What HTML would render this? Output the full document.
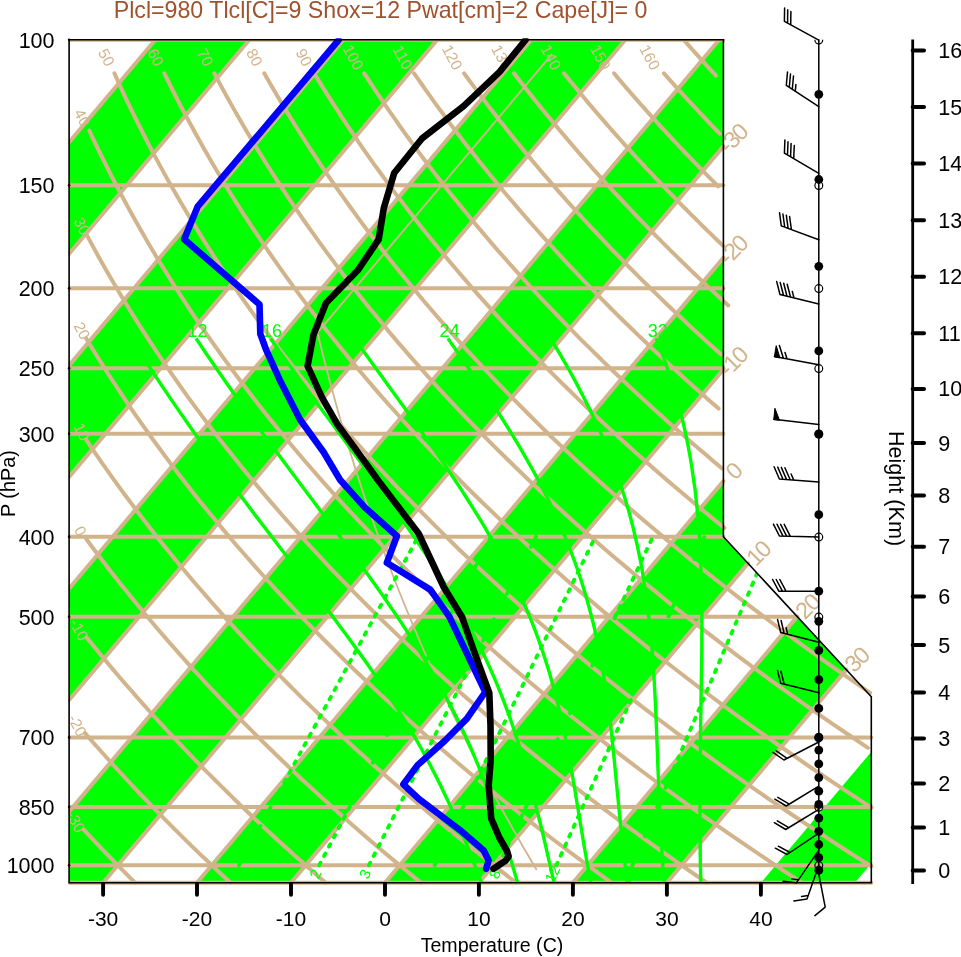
<!DOCTYPE html><html><head><meta charset="utf-8"><style>html,body{margin:0;padding:0;background:#fff;overflow:hidden}svg{display:block}</style></head><body><svg width="961" height="957" viewBox="0 0 961 957" font-family="Liberation Sans, sans-serif">
<defs><clipPath id="clip"><path d="M69.1 882.8L69.1 39.8L723.4 39.8L723.4 536.8L871.3 696.7L871.3 882.8Z"/></clipPath></defs>
<g clip-path="url(#clip)" fill="#00ff00">
<path d="M-554.7 882.8L155.4 39.8L249.4 39.8L-460.7 882.8Z"/>
<path d="M-366.8 882.8L343.3 39.8L437.3 39.8L-272.8 882.8Z"/>
<path d="M-178.8 882.8L531.3 39.8L625.3 39.8L-84.9 882.8Z"/>
<path d="M9.1 882.8L719.2 39.8L813.2 39.8L103.1 882.8Z"/>
<path d="M197.0 882.8L907.2 39.8L1001.1 39.8L291.0 882.8Z"/>
<path d="M385.0 882.8L1095.1 39.8L1189.1 39.8L478.9 882.8Z"/>
<path d="M572.9 882.8L1283.0 39.8L1377.0 39.8L666.9 882.8Z"/>
<path d="M760.9 882.8L1471.0 39.8L1564.9 39.8L854.8 882.8Z"/>
</g>
<defs><clipPath id="clipt"><rect x="68.5" y="39.2" width="961" height="957"/></clipPath></defs>
<g clip-path="url(#clipt)" stroke="#d2b48c" stroke-width="4.0" fill="none" stroke-linecap="round" stroke-linejoin="round">
<path d="M69.1 142.3L155.4 39.8"/>
<path d="M69.1 253.8L249.4 39.8"/>
<path d="M69.1 365.4L343.3 39.8"/>
<path d="M69.1 476.9L437.3 39.8"/>
<path d="M69.1 588.5L531.3 39.8"/>
<path d="M69.1 700.0L625.3 39.8"/>
<path d="M69.1 811.6L719.2 39.8"/>
<path d="M103.1 882.8L723.4 146.4"/>
<path d="M197.0 882.8L723.4 257.9"/>
<path d="M291.0 882.8L723.4 369.5"/>
<path d="M385.0 882.8L723.4 481.1"/>
<path d="M478.9 882.8L748.0 563.4"/>
<path d="M572.9 882.8L797.2 616.6"/>
<path d="M666.9 882.8L846.4 669.7"/>
<path d="M69.1 882.8L871.3 882.8"/>
<path d="M69.1 865.3L871.3 865.3"/>
<path d="M69.1 807.0L871.3 807.0"/>
<path d="M69.1 737.4L871.3 737.4"/>
<path d="M69.1 616.8L797.4 616.8"/>
<path d="M69.1 536.8L723.4 536.8"/>
<path d="M69.1 433.7L723.4 433.7"/>
<path d="M69.1 368.3L723.4 368.3"/>
<path d="M69.1 288.3L723.4 288.3"/>
<path d="M69.1 185.2L723.4 185.2"/>
<path d="M69.1 39.8L723.4 39.8"/>
<path d="M83.5 829.4L84.3 830.3L85.2 831.1L86.0 832.0L86.8 832.9L87.7 833.8L88.5 834.7L89.3 835.6L90.2 836.5L91.0 837.4L91.8 838.3L92.7 839.2L93.5 840.1L94.3 840.9L95.2 841.8L96.0 842.7L96.9 843.6L97.7 844.5L98.6 845.4L99.4 846.3L100.3 847.2L101.1 848.1L102.0 849.0L102.8 849.8L103.7 850.7L104.5 851.6L105.4 852.5L106.2 853.4L107.1 854.3L108.0 855.2L108.8 856.1L109.7 857.0L110.6 857.9L111.4 858.8L112.3 859.6L113.1 860.5L114.0 861.4L114.9 862.3L115.8 863.2L116.6 864.1L117.5 865.0L118.4 865.9L119.2 866.8L120.1 867.7L121.0 868.6L121.9 869.4L122.8 870.3L123.6 871.2L124.5 872.1L125.4 873.0L126.3 873.9L127.2 874.8L128.1 875.7L128.9 876.6L129.8 877.5L130.7 878.3L131.6 879.2L132.5 880.1L133.4 881.0L134.3 881.9L135.2 882.8"/>
<path d="M85.0 733.1L87.2 735.6L89.3 738.1L91.5 740.6L93.7 743.1L95.9 745.6L98.1 748.0L100.3 750.5L102.5 753.0L104.8 755.5L107.0 758.0L109.3 760.5L111.5 763.0L113.8 765.5L116.1 768.0L118.4 770.5L120.7 773.0L123.0 775.5L125.3 778.0L127.6 780.5L129.9 783.0L132.2 785.5L134.6 788.0L136.9 790.5L139.3 793.0L141.7 795.5L144.1 798.0L146.5 800.5L148.9 802.9L151.3 805.4L153.7 807.9L156.1 810.4L158.5 812.9L161.0 815.4L163.4 817.9L165.9 820.4L168.4 822.9L170.9 825.4L173.3 827.9L175.8 830.4L178.4 832.9L180.9 835.4L183.4 837.9L185.9 840.4L188.5 842.9L191.0 845.4L193.6 847.9L196.2 850.4L198.8 852.9L201.3 855.4L203.9 857.8L206.6 860.3L209.2 862.8L211.8 865.3L214.4 867.8L217.1 870.3L219.7 872.8L222.4 875.3L225.1 877.8L227.8 880.3L230.5 882.8"/>
<path d="M86.6 637.4L89.9 641.5L93.2 645.5L96.5 649.6L99.9 653.7L103.3 657.8L106.7 661.9L110.1 666.0L113.6 670.1L117.0 674.2L120.5 678.3L124.0 682.4L127.6 686.5L131.2 690.5L134.7 694.6L138.3 698.7L142.0 702.8L145.6 706.9L149.3 711.0L153.0 715.1L156.7 719.2L160.5 723.3L164.3 727.4L168.0 731.5L171.9 735.5L175.7 739.6L179.6 743.7L183.5 747.8L187.4 751.9L191.3 756.0L195.3 760.1L199.3 764.2L203.3 768.3L207.3 772.4L211.4 776.4L215.5 780.5L219.6 784.6L223.7 788.7L227.9 792.8L232.0 796.9L236.2 801.0L240.5 805.1L244.7 809.2L249.0 813.3L253.3 817.4L257.7 821.4L262.0 825.5L266.4 829.6L270.8 833.7L275.2 837.8L279.7 841.9L284.2 846.0L288.7 850.1L293.2 854.2L297.8 858.3L302.4 862.3L307.0 866.4L311.7 870.5L316.3 874.6L321.0 878.7L325.8 882.8"/>
<path d="M86.3 539.0L90.5 544.7L94.8 550.5L99.1 556.2L103.5 561.9L107.9 567.7L112.4 573.4L116.8 579.1L121.4 584.9L126.0 590.6L130.6 596.3L135.2 602.0L139.9 607.8L144.7 613.5L149.5 619.2L154.3 625.0L159.2 630.7L164.1 636.4L169.1 642.2L174.1 647.9L179.2 653.6L184.3 659.3L189.4 665.1L194.6 670.8L199.9 676.5L205.2 682.3L210.5 688.0L215.9 693.7L221.3 699.4L226.8 705.2L232.3 710.9L237.9 716.6L243.5 722.4L249.2 728.1L254.9 733.8L260.6 739.6L266.4 745.3L272.3 751.0L278.2 756.7L284.2 762.5L290.2 768.2L296.2 773.9L302.3 779.7L308.5 785.4L314.7 791.1L321.0 796.9L327.3 802.6L333.6 808.3L340.0 814.0L346.5 819.8L353.0 825.5L359.6 831.2L366.2 837.0L372.9 842.7L379.6 848.4L386.4 854.2L393.2 859.9L400.1 865.6L407.0 871.3L414.0 877.1L421.0 882.8"/>
<path d="M86.3 439.9L91.3 447.3L96.3 454.7L101.4 462.1L106.6 469.4L111.8 476.8L117.1 484.2L122.5 491.6L128.0 499.0L133.5 506.3L139.1 513.7L144.7 521.1L150.4 528.5L156.2 535.9L162.1 543.2L168.0 550.6L174.0 558.0L180.1 565.4L186.3 572.8L192.5 580.2L198.8 587.5L205.2 594.9L211.6 602.3L218.2 609.7L224.7 617.1L231.4 624.4L238.2 631.8L245.0 639.2L251.9 646.6L258.9 654.0L265.9 661.4L273.1 668.7L280.3 676.1L287.6 683.5L295.0 690.9L302.4 698.3L310.0 705.6L317.6 713.0L325.3 720.4L333.1 727.8L340.9 735.2L348.9 742.6L356.9 749.9L365.0 757.3L373.2 764.7L381.5 772.1L389.9 779.5L398.3 786.8L406.9 794.2L415.5 801.6L424.2 809.0L433.0 816.4L441.9 823.7L450.9 831.1L460.0 838.5L469.1 845.9L478.4 853.3L487.7 860.7L497.2 868.0L506.7 875.4L516.3 882.8"/>
<path d="M86.3 338.7L91.8 347.8L97.4 356.8L103.1 365.9L108.9 375.0L114.8 384.0L120.8 393.1L126.8 402.2L133.0 411.3L139.3 420.3L145.7 429.4L152.2 438.5L158.8 447.5L165.5 456.6L172.3 465.7L179.2 474.7L186.2 483.8L193.3 492.9L200.5 501.9L207.8 511.0L215.3 520.1L222.8 529.1L230.5 538.2L238.2 547.3L246.1 556.3L254.1 565.4L262.2 574.5L270.4 583.5L278.8 592.6L287.2 601.7L295.8 610.8L304.5 619.8L313.3 628.9L322.2 638.0L331.3 647.0L340.4 656.1L349.7 665.2L359.1 674.2L368.7 683.3L378.3 692.4L388.1 701.4L398.0 710.5L408.1 719.6L418.2 728.6L428.5 737.7L438.9 746.8L449.5 755.8L460.2 764.9L471.0 774.0L482.0 783.0L493.1 792.1L504.3 801.2L515.7 810.3L527.2 819.3L538.8 828.4L550.6 837.5L562.5 846.5L574.6 855.6L586.8 864.7L599.1 873.7L611.6 882.8"/>
<path d="M86.3 234.1L92.1 244.9L98.0 255.7L104.1 266.5L110.3 277.3L116.6 288.1L123.1 299.0L129.7 309.8L136.4 320.6L143.3 331.4L150.3 342.2L157.5 353.0L164.8 363.8L172.2 374.6L179.8 385.5L187.5 396.3L195.4 407.1L203.4 417.9L211.5 428.7L219.8 439.5L228.3 450.3L236.9 461.1L245.7 471.9L254.6 482.8L263.7 493.6L272.9 504.4L282.3 515.2L291.9 526.0L301.6 536.8L311.5 547.6L321.5 558.4L331.7 569.3L342.1 580.1L352.7 590.9L363.4 601.7L374.3 612.5L385.3 623.3L396.6 634.1L408.0 644.9L419.6 655.7L431.4 666.6L443.3 677.4L455.4 688.2L467.8 699.0L480.3 709.8L492.9 720.6L505.8 731.4L518.9 742.2L532.2 753.1L545.6 763.9L559.3 774.7L573.1 785.5L587.2 796.3L601.4 807.1L615.9 817.9L630.5 828.7L645.4 839.6L660.4 850.4L675.7 861.2L691.2 872.0L706.9 882.8"/>
<path d="M89.3 130.5L95.2 143.1L101.3 155.6L107.5 168.1L113.9 180.7L120.5 193.2L127.2 205.7L134.1 218.3L141.2 230.8L148.5 243.4L155.9 255.9L163.6 268.4L171.4 281.0L179.4 293.5L187.6 306.1L195.9 318.6L204.5 331.1L213.3 343.7L222.2 356.2L231.4 368.7L240.7 381.3L250.2 393.8L260.0 406.4L269.9 418.9L280.1 431.4L290.5 444.0L301.0 456.5L311.8 469.0L322.8 481.6L334.0 494.1L345.5 506.7L357.1 519.2L369.0 531.7L381.1 544.3L393.5 556.8L406.0 569.4L418.8 581.9L431.9 594.4L445.1 607.0L458.7 619.5L472.4 632.0L486.4 644.6L500.6 657.1L515.1 669.7L529.9 682.2L544.9 694.7L560.1 707.3L575.7 719.8L591.4 732.3L607.5 744.9L623.8 757.4L640.4 770.0L657.2 782.5L674.4 795.0L691.8 807.6L709.4 820.1L727.4 832.6L745.7 845.2L764.2 857.7L783.1 870.3L802.2 882.8"/>
<path d="M114.4 73.3L120.4 86.6L126.5 99.8L132.9 113.0L139.4 126.2L146.1 139.4L153.0 152.6L160.1 165.9L167.4 179.1L174.9 192.3L182.6 205.5L190.5 218.7L198.6 231.9L206.8 245.2L215.3 258.4L224.0 271.6L232.9 284.8L242.1 298.0L251.4 311.2L261.0 324.5L270.7 337.7L280.7 350.9L291.0 364.1L301.4 377.3L312.1 390.6L323.0 403.8L334.1 417.0L345.5 430.2L357.1 443.4L369.0 456.6L381.1 469.9L393.4 483.1L406.0 496.3L418.9 509.5L432.0 522.7L445.3 535.9L458.9 549.2L472.8 562.4L487.0 575.6L501.4 588.8L516.1 602.0L531.0 615.3L546.3 628.5L561.8 641.7L577.6 654.9L593.6 668.1L610.0 681.3L626.7 694.6L643.6 707.8L660.9 721.0L678.4 734.2L696.3 747.4L714.5 760.6L732.9 773.9L751.7 787.1L770.8 800.3L790.3 813.5L810.0 826.7L830.1 839.9L850.5 853.2L871.3 866.4"/>
<path d="M164.4 73.3L170.4 85.6L176.6 97.8L182.9 110.1L189.4 122.3L196.1 134.5L202.9 146.8L209.9 159.0L217.1 171.2L224.4 183.5L232.0 195.7L239.7 208.0L247.5 220.2L255.6 232.4L263.8 244.7L272.2 256.9L280.8 269.2L289.6 281.4L298.6 293.6L307.7 305.9L317.1 318.1L326.6 330.4L336.4 342.6L346.3 354.8L356.4 367.1L366.8 379.3L377.3 391.6L388.0 403.8L399.0 416.0L410.1 428.3L421.5 440.5L433.1 452.7L444.9 465.0L456.9 477.2L469.1 489.5L481.6 501.7L494.2 513.9L507.1 526.2L520.2 538.4L533.6 550.7L547.2 562.9L561.0 575.1L575.1 587.4L589.4 599.6L603.9 611.9L618.7 624.1L633.7 636.3L649.0 648.6L664.5 660.8L680.3 673.0L696.4 685.3L712.7 697.5L729.2 709.8L746.0 722.0L763.1 734.2L780.5 746.5L798.1 758.7L816.0 771.0L834.2 783.2L852.7 795.4L871.4 807.7"/>
<path d="M214.3 73.3L220.3 84.6L226.4 95.8L232.7 107.1L239.1 118.3L245.6 129.5L252.3 140.8L259.1 152.0L266.1 163.3L273.2 174.5L280.5 185.7L287.9 197.0L295.5 208.2L303.2 219.5L311.1 230.7L319.1 241.9L327.3 253.2L335.7 264.4L344.2 275.7L352.9 286.9L361.7 298.2L370.7 309.4L379.9 320.6L389.2 331.9L398.7 343.1L408.4 354.4L418.3 365.6L428.3 376.8L438.5 388.1L448.9 399.3L459.4 410.6L470.2 421.8L481.1 433.0L492.2 444.3L503.5 455.5L515.0 466.8L526.6 478.0L538.5 489.2L550.5 500.5L562.8 511.7L575.2 523.0L587.9 534.2L600.7 545.5L613.7 556.7L627.0 567.9L640.4 579.2L654.1 590.4L667.9 601.7L682.0 612.9L696.3 624.1L710.8 635.4L725.5 646.6L740.4 657.9L755.6 669.1L770.9 680.3L786.5 691.6L802.3 702.8L818.4 714.1L834.7 725.3L851.2 736.5L867.9 747.8"/>
<path d="M264.3 73.3L270.2 83.7L276.2 94.0L282.3 104.3L288.6 114.6L295.0 125.0L301.5 135.3L308.1 145.6L314.9 155.9L321.7 166.3L328.8 176.6L335.9 186.9L343.2 197.2L350.6 207.5L358.1 217.9L365.8 228.2L373.6 238.5L381.6 248.8L389.7 259.2L397.9 269.5L406.3 279.8L414.8 290.1L423.4 300.5L432.2 310.8L441.1 321.1L450.2 331.4L459.5 341.8L468.8 352.1L478.4 362.4L488.0 372.7L497.9 383.1L507.9 393.4L518.0 403.7L528.3 414.0L538.7 424.3L549.3 434.7L560.1 445.0L571.0 455.3L582.1 465.6L593.4 476.0L604.8 486.3L616.4 496.6L628.2 506.9L640.1 517.3L652.2 527.6L664.4 537.9L676.9 548.2L689.5 558.6L702.3 568.9L715.3 579.2L728.4 589.5L741.7 599.9L755.2 610.2L768.9 620.5L782.8 630.8L796.9 641.2L811.1 651.5L825.6 661.8L840.2 672.1L855.0 682.4L870.1 692.8"/>
<path d="M314.2 73.3L318.8 80.9L323.5 88.5L328.3 96.1L333.1 103.6L338.0 111.2L342.9 118.8L348.0 126.4L353.1 133.9L358.2 141.5L363.4 149.1L368.7 156.7L374.1 164.3L379.6 171.8L385.1 179.4L390.7 187.0L396.3 194.6L402.1 202.1L407.9 209.7L413.7 217.3L419.7 224.9L425.7 232.4L431.8 240.0L438.0 247.6L444.3 255.2L450.6 262.7L457.0 270.3L463.5 277.9L470.1 285.5L476.7 293.1L483.4 300.6L490.2 308.2L497.1 315.8L504.1 323.4L511.1 330.9L518.3 338.5L525.5 346.1L532.8 353.7L540.1 361.2L547.6 368.8L555.1 376.4L562.8 384.0L570.5 391.5L578.3 399.1L586.1 406.7L594.1 414.3L602.2 421.9L610.3 429.4L618.5 437.0L626.9 444.6L635.3 452.2L643.8 459.7L652.3 467.3L661.0 474.9L669.8 482.5L678.7 490.0L687.6 497.6L696.7 505.2L705.8 512.8L715.0 520.3L724.4 527.9"/>
<path d="M364.2 73.3L368.5 79.9L372.8 86.5L377.2 93.1L381.6 99.7L386.1 106.3L390.6 112.9L395.2 119.4L399.8 126.0L404.5 132.6L409.3 139.2L414.1 145.8L418.9 152.4L423.8 159.0L428.8 165.5L433.8 172.1L438.9 178.7L444.0 185.3L449.2 191.9L454.5 198.5L459.8 205.1L465.1 211.6L470.6 218.2L476.0 224.8L481.6 231.4L487.2 238.0L492.8 244.6L498.5 251.2L504.3 257.7L510.1 264.3L516.0 270.9L522.0 277.5L528.0 284.1L534.0 290.7L540.2 297.3L546.4 303.8L552.6 310.4L558.9 317.0L565.3 323.6L571.8 330.2L578.3 336.8L584.8 343.4L591.5 349.9L598.2 356.5L604.9 363.1L611.8 369.7L618.6 376.3L625.6 382.9L632.6 389.5L639.7 396.1L646.9 402.6L654.1 409.2L661.4 415.8L668.7 422.4L676.2 429.0L683.7 435.6L691.2 442.2L698.9 448.7L706.6 455.3L714.3 461.9L722.2 468.5"/>
<path d="M414.1 73.3L418.0 78.9L421.9 84.5L425.8 90.1L429.8 95.7L433.8 101.3L437.8 106.9L441.9 112.4L446.0 118.0L450.1 123.6L454.3 129.2L458.6 134.8L462.8 140.4L467.1 146.0L471.5 151.6L475.9 157.1L480.3 162.7L484.8 168.3L489.3 173.9L493.9 179.5L498.5 185.1L503.1 190.7L507.8 196.3L512.5 201.8L517.3 207.4L522.1 213.0L527.0 218.6L531.9 224.2L536.8 229.8L541.8 235.4L546.8 240.9L551.9 246.5L557.0 252.1L562.1 257.7L567.3 263.3L572.6 268.9L577.9 274.5L583.2 280.1L588.6 285.6L594.0 291.2L599.5 296.8L605.0 302.4L610.5 308.0L616.1 313.6L621.8 319.2L627.5 324.8L633.2 330.3L639.0 335.9L644.9 341.5L650.7 347.1L656.7 352.7L662.7 358.3L668.7 363.9L674.8 369.4L680.9 375.0L687.0 380.6L693.3 386.2L699.5 391.8L705.9 397.4L712.2 403.0L718.6 408.6"/>
<path d="M464.1 73.3L467.5 78.0L470.9 82.7L474.4 87.4L477.9 92.1L481.4 96.7L485.0 101.4L488.5 106.1L492.1 110.8L495.8 115.5L499.4 120.2L503.1 124.8L506.8 129.5L510.6 134.2L514.3 138.9L518.1 143.6L522.0 148.3L525.8 152.9L529.7 157.6L533.6 162.3L537.6 167.0L541.5 171.7L545.6 176.3L549.6 181.0L553.7 185.7L557.7 190.4L561.9 195.1L566.0 199.8L570.2 204.4L574.4 209.1L578.7 213.8L583.0 218.5L587.3 223.2L591.6 227.9L596.0 232.5L600.4 237.2L604.8 241.9L609.3 246.6L613.8 251.3L618.3 255.9L622.9 260.6L627.4 265.3L632.1 270.0L636.7 274.7L641.4 279.4L646.1 284.0L650.9 288.7L655.7 293.4L660.5 298.1L665.3 302.8L670.2 307.5L675.1 312.1L680.1 316.8L685.1 321.5L690.1 326.2L695.1 330.9L700.2 335.5L705.3 340.2L710.5 344.9L715.7 349.6L720.9 354.3"/>
<path d="M514.1 73.3L517.0 77.2L520.0 81.1L523.0 84.9L526.0 88.8L529.1 92.7L532.1 96.5L535.2 100.4L538.3 104.3L541.5 108.2L544.6 112.0L547.8 115.9L550.9 119.8L554.1 123.6L557.4 127.5L560.6 131.4L563.9 135.2L567.2 139.1L570.5 143.0L573.8 146.8L577.1 150.7L580.5 154.6L583.9 158.4L587.3 162.3L590.7 166.2L594.1 170.1L597.6 173.9L601.1 177.8L604.6 181.7L608.1 185.5L611.7 189.4L615.3 193.3L618.8 197.1L622.5 201.0L626.1 204.9L629.7 208.7L633.4 212.6L637.1 216.5L640.8 220.4L644.6 224.2L648.3 228.1L652.1 232.0L655.9 235.8L659.8 239.7L663.6 243.6L667.5 247.4L671.4 251.3L675.3 255.2L679.2 259.0L683.2 262.9L687.2 266.8L691.2 270.6L695.2 274.5L699.3 278.4L703.3 282.3L707.4 286.1L711.6 290.0L715.7 293.9L719.9 297.7L724.0 301.6L728.3 305.5"/>
<path d="M564.0 73.3L566.3 76.2L568.7 79.1L571.0 82.0L573.4 84.8L575.7 87.7L578.1 90.6L580.5 93.5L582.9 96.3L585.3 99.2L587.7 102.1L590.1 105.0L592.6 107.9L595.0 110.7L597.5 113.6L600.0 116.5L602.4 119.4L604.9 122.2L607.4 125.1L610.0 128.0L612.5 130.9L615.0 133.7L617.6 136.6L620.2 139.5L622.7 142.4L625.3 145.3L627.9 148.1L630.5 151.0L633.1 153.9L635.8 156.8L638.4 159.6L641.1 162.5L643.8 165.4L646.4 168.3L649.1 171.1L651.8 174.0L654.5 176.9L657.3 179.8L660.0 182.6L662.8 185.5L665.5 188.4L668.3 191.3L671.1 194.2L673.9 197.0L676.7 199.9L679.5 202.8L682.3 205.7L685.2 208.5L688.1 211.4L690.9 214.3L693.8 217.2L696.7 220.0L699.6 222.9L702.5 225.8L705.5 228.7L708.4 231.6L711.4 234.4L714.3 237.3L717.3 240.2L720.3 243.1L723.3 245.9"/>
<path d="M614.0 73.3L615.6 75.2L617.2 77.1L618.8 79.0L620.4 80.9L622.0 82.8L623.6 84.6L625.2 86.5L626.8 88.4L628.5 90.3L630.1 92.2L631.8 94.1L633.4 95.9L635.1 97.8L636.7 99.7L638.4 101.6L640.0 103.5L641.7 105.4L643.4 107.2L645.1 109.1L646.7 111.0L648.4 112.9L650.1 114.8L651.8 116.7L653.5 118.6L655.2 120.4L657.0 122.3L658.7 124.2L660.4 126.1L662.1 128.0L663.9 129.9L665.6 131.7L667.3 133.6L669.1 135.5L670.8 137.4L672.6 139.3L674.4 141.2L676.1 143.0L677.9 144.9L679.7 146.8L681.5 148.7L683.3 150.6L685.1 152.5L686.9 154.3L688.7 156.2L690.5 158.1L692.3 160.0L694.1 161.9L695.9 163.8L697.8 165.6L699.6 167.5L701.4 169.4L703.3 171.3L705.1 173.2L707.0 175.1L708.9 177.0L710.7 178.8L712.6 180.7L714.5 182.6L716.4 184.5L718.2 186.4"/>
<path d="M663.9 73.3L664.8 74.3L665.7 75.4L666.6 76.4L667.5 77.4L668.4 78.4L669.3 79.4L670.2 80.4L671.1 81.4L672.0 82.4L672.9 83.4L673.8 84.4L674.7 85.4L675.6 86.5L676.6 87.5L677.5 88.5L678.4 89.5L679.3 90.5L680.2 91.5L681.1 92.5L682.1 93.5L683.0 94.5L683.9 95.5L684.8 96.5L685.7 97.6L686.7 98.6L687.6 99.6L688.5 100.6L689.5 101.6L690.4 102.6L691.3 103.6L692.3 104.6L693.2 105.6L694.1 106.6L695.1 107.6L696.0 108.7L697.0 109.7L697.9 110.7L698.8 111.7L699.8 112.7L700.7 113.7L701.7 114.7L702.6 115.7L703.6 116.7L704.5 117.7L705.5 118.7L706.5 119.8L707.4 120.8L708.4 121.8L709.3 122.8L710.3 123.8L711.3 124.8L712.2 125.8L713.2 126.8L714.2 127.8L715.1 128.8L716.1 129.8L717.1 130.9L718.1 131.9L719.0 132.9L720.0 133.9"/>
<path d="M683.7 39.8L684.2 40.4L684.8 41.0L685.3 41.6L685.8 42.2L686.3 42.8L686.9 43.4L687.4 44.0L687.9 44.6L688.4 45.2L689.0 45.8L689.5 46.4L690.0 47.0L690.6 47.6L691.1 48.2L691.6 48.8L692.1 49.4L692.7 50.0L693.2 50.6L693.7 51.2L694.3 51.8L694.8 52.3L695.3 52.9L695.9 53.5L696.4 54.1L696.9 54.7L697.5 55.3L698.0 55.9L698.6 56.5L699.1 57.1L699.6 57.7L700.2 58.3L700.7 58.9L701.2 59.5L701.8 60.1L702.3 60.7L702.9 61.3L703.4 61.9L703.9 62.5L704.5 63.1L705.0 63.7L705.6 64.3L706.1 64.9L706.7 65.5L707.2 66.1L707.8 66.7L708.3 67.3L708.8 67.9L709.4 68.5L709.9 69.1L710.5 69.6L711.0 70.2L711.6 70.8L712.1 71.4L712.7 72.0L713.2 72.6L713.8 73.2L714.3 73.8L714.9 74.4L715.4 75.0L716.0 75.6"/>
</g>
<path d="M536.7 870.0L524.2 848.7L511.8 827.0L499.7 805.2L487.8 783.0L476.1 760.7L464.7 738.0L453.5 715.1L442.5 691.8L431.7 668.3L421.2 644.5L411.0 620.4L401.0 596.0L391.3 571.3L381.9 546.2L372.8 520.8L363.9 495.0L355.4 468.9L347.2 442.4L339.2 415.6L331.7 388.3L324.4 360.7L317.5 332.6L341.3 304.4L365.1 276.1L388.9 247.8L412.7 219.6L436.5 191.3L460.4 163.0L484.2 134.8L508.0 106.5L531.8 78.2L552.3 53.9" stroke="#d2b48c" stroke-width="1.8" fill="none"/>
<g clip-path="url(#clip)" stroke="#00ff00" stroke-width="3.4" fill="none">
<path d="M700.9 882.8L700.8 879.4L700.7 875.9L700.6 872.4L700.5 868.9L700.4 865.3L700.3 861.7L700.3 858.1L700.2 854.4L700.2 850.7L700.1 846.9L700.1 843.1L700.1 839.3L700.1 835.4L700.0 831.5L700.0 827.5L700.0 823.5L700.0 819.5L700.0 815.4L700.0 811.2L700.1 807.0L700.1 802.8L700.1 798.5L700.1 794.2L700.2 789.8L700.2 785.3L700.2 780.8L700.3 776.2L700.3 771.6L700.3 766.9L700.4 762.2L700.4 757.4L700.4 752.5L700.5 747.5L700.5 742.5L700.6 737.4L700.6 732.3L700.6 727.0L700.7 721.7L700.8 716.3L700.9 710.9L701.0 705.3L701.0 699.7L701.1 693.9L701.2 688.1L701.3 682.2L701.4 676.1L701.5 670.0L701.6 663.8L701.7 657.4L701.8 651.0L701.8 644.4L701.8 637.7L701.9 630.9L701.9 623.9L701.8 616.8L701.8 609.6L701.7 602.2L701.6 594.6L701.5 586.9L701.3 579.0L701.0 571.0L700.7 562.7L700.4 554.3L699.9 545.7L699.4 536.8L698.7 527.7L698.0 518.4L697.1 508.9L696.1 499.0L695.0 488.9L693.4 478.5L691.9 467.8L690.1 456.8L688.0 445.4L685.6 433.7L682.9 421.5L679.8 408.9L676.2 395.9L672.1 382.4L667.5 368.3L662.3 353.7L656.3 338.4"/>
<path d="M664.1 882.8L663.8 879.4L663.6 875.9L663.3 872.4L663.1 868.9L662.8 865.3L662.6 861.7L662.4 858.1L662.1 854.4L661.9 850.7L661.7 846.9L661.5 843.1L661.3 839.3L661.1 835.4L660.9 831.5L660.7 827.5L660.5 823.5L660.3 819.5L660.1 815.4L659.9 811.2L659.7 807.0L659.5 802.8L659.3 798.5L659.1 794.2L658.9 789.8L658.7 785.3L658.5 780.8L658.3 776.2L658.1 771.6L657.9 766.9L657.7 762.2L657.6 757.4L657.4 752.5L657.2 747.5L657.0 742.5L656.8 737.4L656.6 732.3L656.4 727.0L656.2 721.7L656.0 716.3L655.7 710.9L655.5 705.3L655.2 699.7L654.9 693.9L654.6 688.1L654.3 682.2L653.9 676.1L653.5 670.0L653.1 663.8L652.7 657.4L652.2 651.0L651.6 644.4L651.0 637.7L650.3 630.9L649.6 623.9L648.8 616.8L648.0 609.6L647.0 602.2L646.0 594.6L644.8 586.9L643.6 579.0L642.3 571.0L640.8 562.7L639.1 554.3L637.3 545.7L635.3 536.8L633.1 527.7L630.7 518.4L628.1 508.9L625.2 499.0L622.0 488.9L618.6 478.5L614.8 467.8L610.6 456.8L606.1 445.4L601.1 433.7L595.6 421.5L589.6 408.9L583.0 395.9L575.9 382.4L568.2 368.3L559.7 353.7L550.6 338.4"/>
<path d="M627.5 882.8L627.0 879.4L626.6 875.9L626.1 872.4L625.7 868.9L625.2 865.3L624.8 861.7L624.4 858.1L623.9 854.4L623.5 850.7L623.0 846.9L622.6 843.1L622.2 839.3L621.8 835.4L621.3 831.5L620.9 827.5L620.4 823.5L620.0 819.5L619.6 815.4L619.2 811.2L618.8 807.0L618.4 802.8L618.0 798.5L617.6 794.2L617.1 789.8L616.7 785.3L616.3 780.8L615.8 776.2L615.4 771.6L614.9 766.9L614.5 762.2L614.0 757.4L613.5 752.5L613.0 747.5L612.5 742.5L612.0 737.4L611.4 732.3L610.8 727.0L610.2 721.7L609.5 716.3L608.8 710.9L608.1 705.3L607.4 699.7L606.6 693.9L605.7 688.1L604.8 682.2L603.8 676.1L602.8 670.0L601.7 663.8L600.5 657.4L599.3 651.0L598.0 644.4L596.5 637.7L595.0 630.9L593.4 623.9L591.6 616.8L589.7 609.6L587.7 602.2L585.5 594.6L583.2 586.9L580.7 579.0L578.0 571.0L575.1 562.7L572.0 554.3L568.7 545.7L565.1 536.8L561.3 527.7L557.1 518.4L552.7 508.9L548.0 499.0L542.9 488.9L537.4 478.5L531.6 467.8L525.3 456.8L518.7 445.4L511.6 433.7L504.0 421.5L495.9 408.9L487.4 395.9L478.3 382.4L468.7 368.3L458.6 353.7L447.9 338.4"/>
<path d="M590.9 882.8L590.2 879.4L589.6 875.9L589.0 872.4L588.3 868.9L587.7 865.3L587.0 861.7L586.3 858.1L585.7 854.4L585.0 850.7L584.3 846.9L583.7 843.1L583.0 839.3L582.4 835.4L581.7 831.5L581.1 827.5L580.4 823.5L579.7 819.5L579.1 815.4L578.4 811.2L577.7 807.0L577.0 802.8L576.3 798.5L575.6 794.2L574.9 789.8L574.1 785.3L573.3 780.8L572.6 776.2L571.7 771.6L570.9 766.9L570.0 762.2L569.2 757.4L568.3 752.5L567.3 747.5L566.3 742.5L565.3 737.4L564.3 732.3L563.1 727.0L562.0 721.7L560.8 716.3L559.5 710.9L558.2 705.3L556.8 699.7L555.3 693.9L553.7 688.1L552.1 682.2L550.4 676.1L548.6 670.0L546.6 663.8L544.6 657.4L542.5 651.0L540.2 644.4L537.8 637.7L535.3 630.9L532.6 623.9L529.8 616.8L526.7 609.6L523.6 602.2L520.2 594.6L516.6 586.9L512.8 579.0L508.8 571.0L504.6 562.7L500.1 554.3L495.3 545.7L490.3 536.8L485.0 527.7L479.4 518.4L473.5 508.9L467.3 499.0L460.8 488.9L453.9 478.5L446.8 467.8L439.2 456.8L431.3 445.4L423.0 433.7L414.4 421.5L405.4 408.9L395.9 395.9L386.1 382.4L375.9 368.3L365.3 353.7L354.3 338.4"/>
<path d="M554.1 882.8L553.3 879.4L552.5 875.9L551.7 872.4L550.9 868.9L550.1 865.3L549.2 861.7L548.4 858.1L547.6 854.4L546.7 850.7L545.9 846.9L545.0 843.1L544.1 839.3L543.2 835.4L542.3 831.5L541.3 827.5L540.3 823.5L539.3 819.5L538.3 815.4L537.2 811.2L536.2 807.0L535.1 802.8L534.0 798.5L532.9 794.2L531.7 789.8L530.5 785.3L529.3 780.8L528.1 776.2L526.8 771.6L525.5 766.9L524.1 762.2L522.7 757.4L521.2 752.5L519.7 747.5L518.2 742.5L516.5 737.4L514.8 732.3L513.1 727.0L511.3 721.7L509.4 716.3L507.4 710.9L505.3 705.3L503.2 699.7L500.9 693.9L498.6 688.1L496.1 682.2L493.5 676.1L490.8 670.0L488.0 663.8L485.1 657.4L482.0 651.0L478.7 644.4L475.4 637.7L471.8 630.9L468.1 623.9L464.2 616.8L460.1 609.6L455.9 602.2L451.4 594.6L446.7 586.9L441.8 579.0L436.7 571.0L431.4 562.7L425.9 554.3L420.1 545.7L414.1 536.8L407.8 527.7L401.3 518.4L394.5 508.9L387.4 499.0L380.1 488.9L372.5 478.5L364.7 467.8L356.6 456.8L348.2 445.4L339.5 433.7L330.6 421.5L321.3 408.9L311.7 395.9L301.9 382.4L291.7 368.3L281.2 353.7L270.4 338.4"/>
<path d="M517.7 882.8L516.7 879.4L515.6 875.9L514.6 872.4L513.5 868.9L512.5 865.3L511.4 861.7L510.3 858.1L509.2 854.4L508.1 850.7L506.9 846.9L505.8 843.1L504.6 839.3L503.3 835.4L502.1 831.5L500.8 827.5L499.5 823.5L498.2 819.5L496.8 815.4L495.4 811.2L494.0 807.0L492.5 802.8L491.0 798.5L489.4 794.2L487.8 789.8L486.1 785.3L484.4 780.8L482.6 776.2L480.7 771.6L478.8 766.9L476.8 762.2L474.8 757.4L472.7 752.5L470.6 747.5L468.3 742.5L466.0 737.4L463.6 732.3L461.2 727.0L458.6 721.7L456.0 716.3L453.2 710.9L450.3 705.3L447.4 699.7L444.4 693.9L441.2 688.1L437.9 682.2L434.5 676.1L430.9 670.0L427.2 663.8L423.4 657.4L419.5 651.0L415.4 644.4L411.1 637.7L406.7 630.9L402.1 623.9L397.4 616.8L392.4 609.6L387.4 602.2L382.1 594.6L376.7 586.9L371.0 579.0L365.2 571.0L359.2 562.7L353.0 554.3L346.7 545.7L340.1 536.8L333.3 527.7L326.3 518.4L319.1 508.9L311.7 499.0L304.2 488.9L296.3 478.5L288.3 467.8L280.1 456.8L271.6 445.4L263.0 433.7L254.1 421.5L245.0 408.9L235.6 395.9L226.1 382.4L216.3 368.3L206.3 353.7L196.0 338.4"/>
<path d="M481.5 882.8L480.2 879.4L478.9 875.9L477.6 872.4L476.3 868.9L474.9 865.3L473.5 861.7L472.1 858.1L470.6 854.4L469.2 850.7L467.6 846.9L466.1 843.1L464.6 839.3L463.0 835.4L461.4 831.5L459.7 827.5L458.0 823.5L456.2 819.5L454.4 815.4L452.6 811.2L450.7 807.0L448.8 802.8L446.8 798.5L444.7 794.2L442.6 789.8L440.5 785.3L438.2 780.8L436.0 776.2L433.6 771.6L431.2 766.9L428.7 762.2L426.1 757.4L423.4 752.5L420.7 747.5L417.8 742.5L414.9 737.4L411.9 732.3L408.8 727.0L405.5 721.7L402.3 716.3L398.8 710.9L395.3 705.3L391.6 699.7L387.8 693.9L383.9 688.1L379.9 682.2L375.8 676.1L371.5 670.0L367.2 663.8L362.7 657.4L358.0 651.0L353.3 644.4L348.4 637.7L343.4 630.9L338.2 623.9L332.9 616.8L327.5 609.6L321.9 602.2L316.1 594.6L310.2 586.9L304.2 579.0L298.0 571.0L291.7 562.7L285.2 554.3L278.6 545.7L271.8 536.8L264.9 527.7L257.7 518.4L250.5 508.9L243.1 499.0L235.5 488.9L227.7 478.5L219.8 467.8L211.7 456.8L203.4 445.4L195.0 433.7L186.4 421.5L177.6 408.9L168.7 395.9L159.6 382.4L150.3 368.3L140.8 353.7L131.2 338.4"/>
<path d="M632.5 865.3L772.7 536.8" stroke-dasharray="2.9 7.6" stroke-linecap="round" stroke-width="3.8"/>
<path d="M556.3 865.3L704.5 536.8" stroke-dasharray="2.9 7.6" stroke-linecap="round" stroke-width="3.8"/>
<path d="M498.6 865.3L652.8 536.8" stroke-dasharray="2.9 7.6" stroke-linecap="round" stroke-width="3.8"/>
<path d="M434.7 865.3L595.3 536.8" stroke-dasharray="2.9 7.6" stroke-linecap="round" stroke-width="3.8"/>
<path d="M368.9 865.3L535.9 536.8" stroke-dasharray="2.9 7.6" stroke-linecap="round" stroke-width="3.8"/>
<path d="M319.2 865.3L490.9 536.8" stroke-dasharray="2.9 7.6" stroke-linecap="round" stroke-width="3.8"/>
<path d="M239.0 865.3L418.1 536.8" stroke-dasharray="2.9 7.6" stroke-linecap="round" stroke-width="3.8"/>
</g>
<text transform="translate(76.0 821.6) rotate(62.0)" font-size="15.5" fill="#d2b48c" text-anchor="middle" dominant-baseline="central" >-30</text>
<text transform="translate(77.5 725.3) rotate(62.0)" font-size="15.5" fill="#d2b48c" text-anchor="middle" dominant-baseline="central" >-20</text>
<text transform="translate(79.1 629.6) rotate(62.0)" font-size="15.5" fill="#d2b48c" text-anchor="middle" dominant-baseline="central" >-10</text>
<text transform="translate(80.7 531.0) rotate(62.0)" font-size="15.5" fill="#d2b48c" text-anchor="middle" dominant-baseline="central" >0</text>
<text transform="translate(82.1 431.9) rotate(62.0)" font-size="15.5" fill="#d2b48c" text-anchor="middle" dominant-baseline="central" >10</text>
<text transform="translate(82.1 330.7) rotate(62.0)" font-size="15.5" fill="#d2b48c" text-anchor="middle" dominant-baseline="central" >20</text>
<text transform="translate(82.1 226.1) rotate(62.0)" font-size="15.5" fill="#d2b48c" text-anchor="middle" dominant-baseline="central" >30</text>
<text transform="translate(82.4 117.6) rotate(62.0)" font-size="15.5" fill="#d2b48c" text-anchor="middle" dominant-baseline="central" >40</text>
<text transform="translate(106.5 57.3) rotate(62.0)" font-size="15.5" fill="#d2b48c" text-anchor="middle" dominant-baseline="central" >50</text>
<text transform="translate(155.9 57.3) rotate(62.0)" font-size="15.5" fill="#d2b48c" text-anchor="middle" dominant-baseline="central" >60</text>
<text transform="translate(205.3 57.3) rotate(62.0)" font-size="15.5" fill="#d2b48c" text-anchor="middle" dominant-baseline="central" >70</text>
<text transform="translate(254.7 57.3) rotate(62.0)" font-size="15.5" fill="#d2b48c" text-anchor="middle" dominant-baseline="central" >80</text>
<text transform="translate(304.1 57.3) rotate(62.0)" font-size="15.5" fill="#d2b48c" text-anchor="middle" dominant-baseline="central" >90</text>
<text transform="translate(353.5 57.3) rotate(62.0)" font-size="15.5" fill="#d2b48c" text-anchor="middle" dominant-baseline="central" >100</text>
<text transform="translate(402.9 57.3) rotate(62.0)" font-size="15.5" fill="#d2b48c" text-anchor="middle" dominant-baseline="central" >110</text>
<text transform="translate(452.4 57.3) rotate(62.0)" font-size="15.5" fill="#d2b48c" text-anchor="middle" dominant-baseline="central" >120</text>
<text transform="translate(501.8 57.3) rotate(62.0)" font-size="15.5" fill="#d2b48c" text-anchor="middle" dominant-baseline="central" >130</text>
<text transform="translate(551.2 57.3) rotate(62.0)" font-size="15.5" fill="#d2b48c" text-anchor="middle" dominant-baseline="central" >140</text>
<text transform="translate(600.6 57.3) rotate(62.0)" font-size="15.5" fill="#d2b48c" text-anchor="middle" dominant-baseline="central" >150</text>
<text transform="translate(650.0 57.3) rotate(62.0)" font-size="15.5" fill="#d2b48c" text-anchor="middle" dominant-baseline="central" >160</text>
<text transform="translate(733.2 138.5) rotate(-45.0)" font-size="23.5" fill="#d2b48c" text-anchor="middle" dominant-baseline="central" letter-spacing="-1.5">-30</text>
<text transform="translate(733.2 250.0) rotate(-45.0)" font-size="23.5" fill="#d2b48c" text-anchor="middle" dominant-baseline="central" letter-spacing="-1.5">-20</text>
<text transform="translate(733.2 361.6) rotate(-45.0)" font-size="23.5" fill="#d2b48c" text-anchor="middle" dominant-baseline="central" letter-spacing="-1.5">-10</text>
<text transform="translate(733.8 471.2) rotate(-45.0)" font-size="23.5" fill="#d2b48c" text-anchor="middle" dominant-baseline="central" letter-spacing="-1.5">0</text>
<text transform="translate(758.4 553.5) rotate(-45.0)" font-size="23.5" fill="#d2b48c" text-anchor="middle" dominant-baseline="central" letter-spacing="-1.5">10</text>
<text transform="translate(807.6 606.7) rotate(-45.0)" font-size="23.5" fill="#d2b48c" text-anchor="middle" dominant-baseline="central" letter-spacing="-1.5">20</text>
<text transform="translate(856.8 659.8) rotate(-45.0)" font-size="23.5" fill="#d2b48c" text-anchor="middle" dominant-baseline="central" letter-spacing="-1.5">30</text>
<text transform="translate(657.8 331.0) rotate(0.0)" font-size="18.0" fill="#00ff00" text-anchor="middle" dominant-baseline="central" >32</text>
<text transform="translate(552.1 331.0) rotate(0.0)" font-size="18.0" fill="#00ff00" text-anchor="middle" dominant-baseline="central" >28</text>
<text transform="translate(449.4 331.0) rotate(0.0)" font-size="18.0" fill="#00ff00" text-anchor="middle" dominant-baseline="central" >24</text>
<text transform="translate(355.8 331.0) rotate(0.0)" font-size="18.0" fill="#00ff00" text-anchor="middle" dominant-baseline="central" >20</text>
<text transform="translate(271.9 331.0) rotate(0.0)" font-size="18.0" fill="#00ff00" text-anchor="middle" dominant-baseline="central" >16</text>
<text transform="translate(197.5 331.0) rotate(0.0)" font-size="18.0" fill="#00ff00" text-anchor="middle" dominant-baseline="central" >12</text>
<text transform="translate(132.7 331.0) rotate(0.0)" font-size="18.0" fill="#00ff00" text-anchor="middle" dominant-baseline="central" >8</text>
<text transform="translate(628.5 873.8) rotate(-65.0)" font-size="15.0" fill="#00ff00" text-anchor="middle" dominant-baseline="central" >20</text>
<text transform="translate(552.3 873.8) rotate(-65.0)" font-size="15.0" fill="#00ff00" text-anchor="middle" dominant-baseline="central" >12</text>
<text transform="translate(494.6 873.8) rotate(-65.0)" font-size="15.0" fill="#00ff00" text-anchor="middle" dominant-baseline="central" >8</text>
<text transform="translate(430.7 873.8) rotate(-65.0)" font-size="15.0" fill="#00ff00" text-anchor="middle" dominant-baseline="central" >5</text>
<text transform="translate(364.9 873.8) rotate(-65.0)" font-size="15.0" fill="#00ff00" text-anchor="middle" dominant-baseline="central" >3</text>
<text transform="translate(315.2 873.8) rotate(-65.0)" font-size="15.0" fill="#00ff00" text-anchor="middle" dominant-baseline="central" >2</text>
<text transform="translate(235.0 873.8) rotate(-65.0)" font-size="15.0" fill="#00ff00" text-anchor="middle" dominant-baseline="central" >1</text>
<g clip-path="url(#clipd)" fill="none" stroke-width="6.6" stroke-linejoin="round" stroke-linecap="round">
<path d="M338.6 40.0L197.6 206.7L184.2 239.3L259.5 304.5L260.3 333.8L266.2 350.0L273.2 365.3L280.0 380.5L300.0 419.5L323.5 452.0L340.2 480.0L365.0 507.6L396.9 536.0L386.8 562.8L430.3 589.6L449.3 616.7L485.3 692.0L466.9 718.7L445.1 740.5L417.6 765.1L403.4 784.3L418.5 798.6L460.3 830.3L483.7 850.4L488.7 860.4L486.2 868.8" stroke="#0000ff"/>
<path d="M525.5 40.0L499.6 71.8L463.6 106.1L421.8 138.7L394.2 173.0L383.7 208.5L378.7 239.4L357.8 270.3L326.0 303.0L313.4 335.0L307.6 366.0L321.8 397.0L336.9 423.7L355.3 448.8L377.8 480.0L418.6 533.5L443.7 587.0L461.9 616.7L473.6 650.0L489.3 692.8L490.5 725.4L490.7 760.1L488.7 785.2L491.2 818.6L499.3 837.5L507.0 851.0L508.6 856.3L505.8 860.4L493.5 868.8" stroke="#000"/>
</g>
<defs><clipPath id="clipd"><rect x="0" y="38.2" width="961" height="957"/></clipPath></defs>
<path d="M69.1 882.8L69.1 39.8L723.4 39.8L723.4 536.8L871.3 696.7L871.3 882.8Z" fill="none" stroke="#000" stroke-width="1.6"/>
<g font-family="Liberation Sans, sans-serif" fill="#000">
<text x="54.5" y="40.7" font-size="21.5" text-anchor="end" dominant-baseline="central">100</text>
<circle cx="69.1" cy="39.8" r="1.3"/>
<text x="54.5" y="186.1" font-size="21.5" text-anchor="end" dominant-baseline="central">150</text>
<circle cx="69.1" cy="185.2" r="1.3"/>
<text x="54.5" y="289.2" font-size="21.5" text-anchor="end" dominant-baseline="central">200</text>
<circle cx="69.1" cy="288.3" r="1.3"/>
<text x="54.5" y="369.2" font-size="21.5" text-anchor="end" dominant-baseline="central">250</text>
<circle cx="69.1" cy="368.3" r="1.3"/>
<text x="54.5" y="434.6" font-size="21.5" text-anchor="end" dominant-baseline="central">300</text>
<circle cx="69.1" cy="433.7" r="1.3"/>
<text x="54.5" y="537.7" font-size="21.5" text-anchor="end" dominant-baseline="central">400</text>
<circle cx="69.1" cy="536.8" r="1.3"/>
<text x="54.5" y="617.7" font-size="21.5" text-anchor="end" dominant-baseline="central">500</text>
<circle cx="69.1" cy="616.8" r="1.3"/>
<text x="54.5" y="738.3" font-size="21.5" text-anchor="end" dominant-baseline="central">700</text>
<circle cx="69.1" cy="737.4" r="1.3"/>
<text x="54.5" y="807.9" font-size="21.5" text-anchor="end" dominant-baseline="central">850</text>
<circle cx="69.1" cy="807.0" r="1.3"/>
<text x="54.5" y="866.2" font-size="21.5" text-anchor="end" dominant-baseline="central">1000</text>
<circle cx="69.1" cy="865.3" r="1.3"/>
<path d="M103.1 883.8V894.8" stroke="#000" stroke-width="3.9" stroke-linecap="round"/>
<text x="103.1" y="918.3" font-size="21" text-anchor="middle" dominant-baseline="central">-30</text>
<path d="M197.0 883.8V894.8" stroke="#000" stroke-width="3.9" stroke-linecap="round"/>
<text x="197.0" y="918.3" font-size="21" text-anchor="middle" dominant-baseline="central">-20</text>
<path d="M291.0 883.8V894.8" stroke="#000" stroke-width="3.9" stroke-linecap="round"/>
<text x="291.0" y="918.3" font-size="21" text-anchor="middle" dominant-baseline="central">-10</text>
<path d="M385.0 883.8V894.8" stroke="#000" stroke-width="3.9" stroke-linecap="round"/>
<text x="385.0" y="918.3" font-size="21" text-anchor="middle" dominant-baseline="central">0</text>
<path d="M478.9 883.8V894.8" stroke="#000" stroke-width="3.9" stroke-linecap="round"/>
<text x="478.9" y="918.3" font-size="21" text-anchor="middle" dominant-baseline="central">10</text>
<path d="M572.9 883.8V894.8" stroke="#000" stroke-width="3.9" stroke-linecap="round"/>
<text x="572.9" y="918.3" font-size="21" text-anchor="middle" dominant-baseline="central">20</text>
<path d="M666.9 883.8V894.8" stroke="#000" stroke-width="3.9" stroke-linecap="round"/>
<text x="666.9" y="918.3" font-size="21" text-anchor="middle" dominant-baseline="central">30</text>
<path d="M760.9 883.8V894.8" stroke="#000" stroke-width="3.9" stroke-linecap="round"/>
<text x="760.9" y="918.3" font-size="21" text-anchor="middle" dominant-baseline="central">40</text>
<text x="492" y="952" font-size="19.6" text-anchor="middle">Temperature (C)</text>
<text transform="translate(15 483.6) rotate(-90)" font-size="19.8" text-anchor="middle">P (hPa)</text>
</g>
<text x="380.6" y="17.9" font-size="23.2" text-anchor="middle" fill="#a0522d">Plcl=980 Tlcl[C]=9 Shox=12 Pwat[cm]=2 Cape[J]= 0</text>
<path d="M912.7 39.5V884" stroke="#000" stroke-width="2.8"/>
<g font-family="Liberation Sans, sans-serif" fill="#000" font-size="21.6">
<path d="M912.7 870.6H924" stroke="#000" stroke-width="4" stroke-linecap="round"/>
<text x="938.3" y="870.6" dominant-baseline="central">0</text>
<path d="M912.7 827.6H924" stroke="#000" stroke-width="4" stroke-linecap="round"/>
<text x="938.3" y="827.6" dominant-baseline="central">1</text>
<path d="M912.7 783.6H924" stroke="#000" stroke-width="4" stroke-linecap="round"/>
<text x="938.3" y="783.6" dominant-baseline="central">2</text>
<path d="M912.7 738.6H924" stroke="#000" stroke-width="4" stroke-linecap="round"/>
<text x="938.3" y="738.6" dominant-baseline="central">3</text>
<path d="M912.7 692.4H924" stroke="#000" stroke-width="4" stroke-linecap="round"/>
<text x="938.3" y="692.4" dominant-baseline="central">4</text>
<path d="M912.7 645.1H924" stroke="#000" stroke-width="4" stroke-linecap="round"/>
<text x="938.3" y="645.1" dominant-baseline="central">5</text>
<path d="M912.7 596.6H924" stroke="#000" stroke-width="4" stroke-linecap="round"/>
<text x="938.3" y="596.6" dominant-baseline="central">6</text>
<path d="M912.7 546.8H924" stroke="#000" stroke-width="4" stroke-linecap="round"/>
<text x="938.3" y="546.8" dominant-baseline="central">7</text>
<path d="M912.7 495.6H924" stroke="#000" stroke-width="4" stroke-linecap="round"/>
<text x="938.3" y="495.6" dominant-baseline="central">8</text>
<path d="M912.7 443.0H924" stroke="#000" stroke-width="4" stroke-linecap="round"/>
<text x="938.3" y="443.0" dominant-baseline="central">9</text>
<path d="M912.7 388.9H924" stroke="#000" stroke-width="4" stroke-linecap="round"/>
<text x="938.3" y="388.9" dominant-baseline="central">10</text>
<path d="M912.7 333.2H924" stroke="#000" stroke-width="4" stroke-linecap="round"/>
<text x="938.3" y="333.2" dominant-baseline="central">11</text>
<path d="M912.7 276.7H924" stroke="#000" stroke-width="4" stroke-linecap="round"/>
<text x="938.3" y="276.7" dominant-baseline="central">12</text>
<path d="M912.7 220.2H924" stroke="#000" stroke-width="4" stroke-linecap="round"/>
<text x="938.3" y="220.2" dominant-baseline="central">13</text>
<path d="M912.7 163.6H924" stroke="#000" stroke-width="4" stroke-linecap="round"/>
<text x="938.3" y="163.6" dominant-baseline="central">14</text>
<path d="M912.7 107.1H924" stroke="#000" stroke-width="4" stroke-linecap="round"/>
<text x="938.3" y="107.1" dominant-baseline="central">15</text>
<path d="M912.7 50.6H924" stroke="#000" stroke-width="4" stroke-linecap="round"/>
<text x="938.3" y="50.6" dominant-baseline="central">16</text>
<text transform="translate(888.6 488.5) rotate(90)" text-anchor="middle">Height (Km)</text>
</g>
<defs><clipPath id="clipw"><rect x="700" y="39.8" width="261" height="957"/></clipPath></defs>
<g stroke="#000" stroke-width="1.5" fill="none" stroke-linecap="round" stroke-linejoin="round">
<path d="M818.8 40V874"/>
<path d="M818.8 40.1L784.4 21.3M784.4 21.3L784.6 8.0M787.6 23.0L787.7 9.7M790.7 24.8L790.9 11.5"/>
<path d="M818.8 106.6L786.3 85.3M786.3 85.3L787.5 72.1M789.3 87.3L790.5 74.0M792.3 89.2L793.5 76.0M795.3 91.2L795.9 84.6"/>
<path d="M818.8 173.3L784.4 153.2M784.4 153.2L784.9 139.9M787.5 155.0L788.0 141.7M790.6 156.8L791.1 143.5M793.7 158.6L794.3 145.4"/>
<path d="M818.8 239.7L781.3 225.9M781.3 225.9L779.5 212.7M784.7 227.1L782.9 214.0M788.1 228.4L786.3 215.2M791.4 229.6L789.6 216.5"/>
<path d="M818.8 303.9L780.0 294.5M780.0 294.5L776.7 281.6M783.5 295.3L780.2 282.5M787.0 296.2L783.7 283.3M790.5 297.0L787.2 284.2M794.0 297.9L792.3 291.4"/>
<path d="M774.4 356.5L776.2 345.7L779.9 357.5Z" fill="#000" stroke-width="1"/>
<path d="M818.8 364.7L774.4 356.5M783.4 358.2L779.4 345.5M787.0 358.8L785.0 352.5"/>
<path d="M773.8 419.2L774.9 408.3L779.4 419.9Z" fill="#000" stroke-width="1"/>
<path d="M818.8 424.5L773.8 419.2"/>
<path d="M818.8 482.1L779.4 479.0M779.4 479.0L774.1 466.8M783.0 479.3L777.7 467.1M786.6 479.6L781.3 467.4M790.2 479.8L784.9 467.7M793.8 480.1L791.1 474.0"/>
<path d="M818.8 536.9L779.4 536.0M779.4 536.0L773.4 524.1M783.0 536.1L777.0 524.2M786.6 536.2L780.6 524.3M790.2 536.2L784.2 524.4"/>
<path d="M818.8 591.2L778.8 591.2M778.8 591.2L772.6 579.5M782.4 591.2L776.2 579.5M786.0 591.2L779.8 579.5"/>
<path d="M818.8 642.3L780.7 632.5M780.7 632.5L777.6 619.6M784.2 633.4L781.1 620.5M787.7 634.3L786.1 627.8"/>
<path d="M818.8 692.7L780.7 683.3M780.7 683.3L777.5 670.4M784.2 684.2L780.9 671.3"/>
<path d="M818.8 742.0L783.9 760.0M783.9 760.0L773.0 752.4M787.1 758.3L776.2 750.8"/>
<path d="M818.8 786.2L786.2 806.0M786.2 806.0L774.8 799.2M789.3 804.1L777.8 797.3"/>
<path d="M818.8 809.4L785.7 829.5M785.7 829.5L774.3 822.7M788.8 827.6L777.3 820.8"/>
<path d="M818.8 833.2L787.0 854.5M787.0 854.5L775.3 848.2M790.0 852.5L778.3 846.2"/>
<path d="M818.8 850.2L796.4 882.8M796.4 882.8L783.2 881.3M798.4 879.8L791.8 879.1"/>
<path d="M818.8 865.2L807.0 899.0M807.0 899.0L793.9 901.0M808.2 895.6L801.6 896.6"/>
<path d="M818.8 874.0L825.2 907.2M825.2 907.2L814.9 915.6"/>
</g>
<g fill="#000"><circle cx="818.8" cy="94.3" r="4.4"/><circle cx="818.8" cy="179.5" r="4.4"/><circle cx="818.8" cy="266.3" r="4.4"/><circle cx="818.8" cy="350.9" r="4.4"/><circle cx="818.8" cy="434.1" r="4.4"/><circle cx="818.8" cy="514.7" r="4.4"/><circle cx="818.8" cy="591.2" r="4.4"/><circle cx="818.8" cy="621.3" r="4.4"/><circle cx="818.8" cy="650.3" r="4.4"/><circle cx="818.8" cy="679.6" r="4.4"/><circle cx="818.8" cy="708.4" r="4.4"/><circle cx="818.8" cy="737.2" r="4.4"/><circle cx="818.8" cy="750.1" r="4.4"/><circle cx="818.8" cy="763.9" r="4.4"/><circle cx="818.8" cy="777.6" r="4.4"/><circle cx="818.8" cy="791.2" r="4.4"/><circle cx="818.8" cy="804.4" r="4.4"/><circle cx="818.8" cy="818.2" r="4.4"/><circle cx="818.8" cy="831.3" r="4.4"/><circle cx="818.8" cy="844.5" r="4.4"/><circle cx="818.8" cy="857.7" r="4.4"/><circle cx="818.8" cy="870.2" r="4.4"/></g>
<g clip-path="url(#clipw)" fill="none" stroke="#000" stroke-width="1.2"><circle cx="818.8" cy="40.1" r="3.9"/><circle cx="818.8" cy="185.5" r="3.9"/><circle cx="818.8" cy="288.6" r="3.9"/><circle cx="818.8" cy="368.6" r="3.9"/><circle cx="818.8" cy="434.0" r="3.9"/><circle cx="818.8" cy="537.1" r="3.9"/><circle cx="818.8" cy="617.1" r="3.9"/><circle cx="818.8" cy="737.7" r="3.9"/><circle cx="818.8" cy="807.3" r="3.9"/><circle cx="818.8" cy="865.6" r="3.9"/></g>
</svg></body></html>
